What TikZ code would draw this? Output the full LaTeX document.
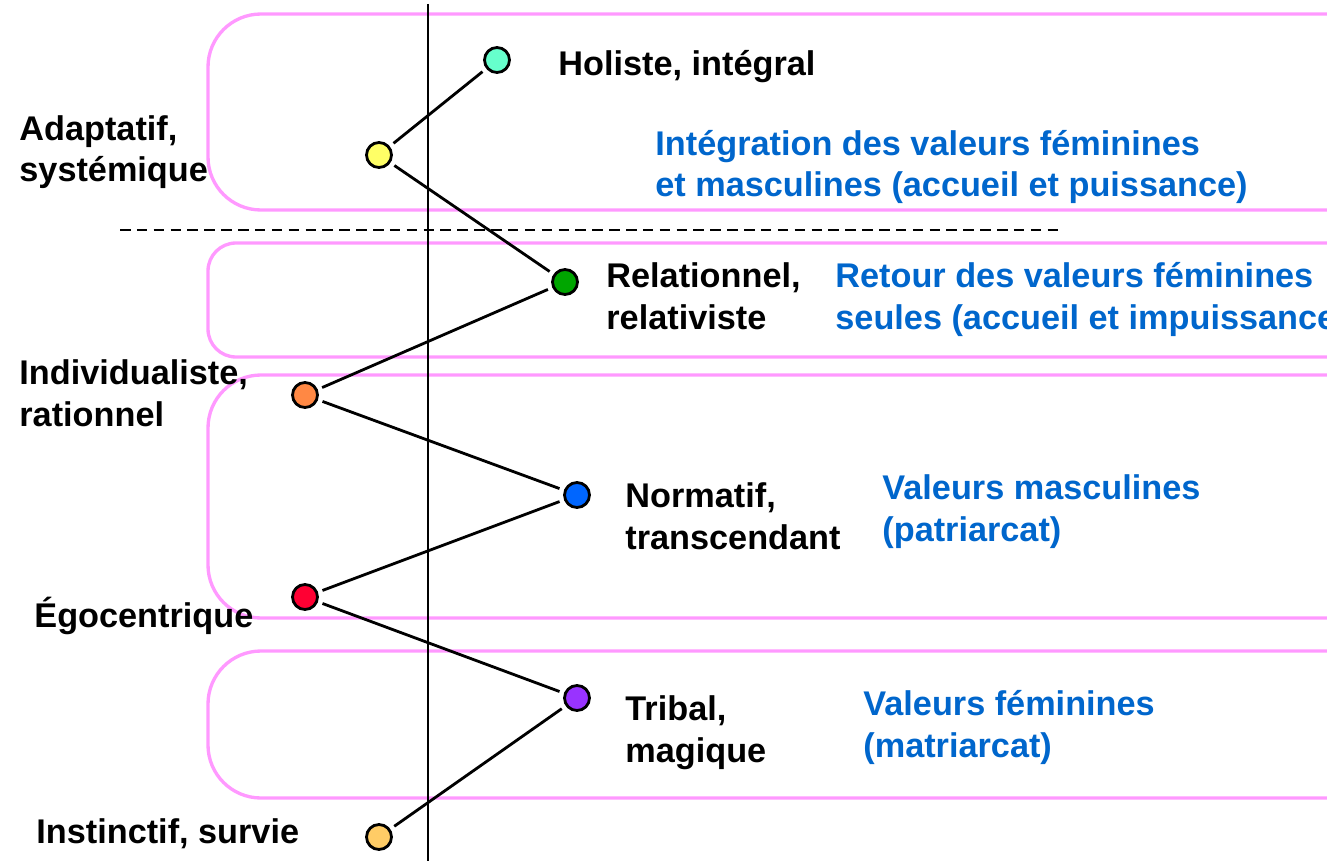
\documentclass[tikz,border=0pt]{standalone}
\usepackage{fontspec}
\setmainfont{Liberation Sans}
\definecolor{bandpink}{RGB}{255,153,255}
\definecolor{valblue}{RGB}{0,102,204}
\definecolor{holistfill}{HTML}{66FFCC}
\definecolor{adaptfill}{HTML}{FFFF66}
\definecolor{relatfill}{HTML}{00A600}
\definecolor{indivfill}{HTML}{FF8844}
\definecolor{normfill}{HTML}{0066FF}
\definecolor{egofill}{HTML}{FF0033}
\definecolor{tribalfill}{HTML}{9933FF}
\definecolor{instinctfill}{HTML}{FFCC66}
\tikzset{
  level/.style={circle,draw,minimum size=0.5cm,inner sep=0pt,outer sep=3.5pt},
  lbl/.style={anchor=base west,align=left,inner sep=0pt,
    font=\fontsize{19.5}{23.5}\selectfont\bfseries},
  val/.style={lbl,text=valblue},
  band/.style={draw=bandpink,line width=1.9pt,rounded corners=1.06cm}
}
\begin{document}
\begin{tikzpicture}[x=0.02cm,y=-0.02cm,line width=1.6pt]
\useasboundingbox (0,0) rectangle (1327,861);
\clip (0,0) rectangle (1327,861);
% the four bands, open to the right
\draw[band] (208,14) rectangle (1420,210);
\draw[band,rounded corners=0.56cm] (208,243) rectangle (1420,357);
\draw[band] (208,375) rectangle (1420,618);
\draw[band] (208,651) rectangle (1420,798);
\draw (428,4) -- (428,861);
\draw[dash pattern=on 6pt off 3.6pt] (120,230) -- (1058,230);
% levels
\foreach \nm/\x/\y in {holist/497/60,adapt/379/155,relat/565/282,indiv/305/395,
    norm/577/495,ego/305/597,tribal/577/698,instinct/379/837}
  \node[level,fill=\nm fill] (\nm) at (\x,\y) {};
\draw (holist) -- (adapt) -- (relat) -- (indiv) -- (norm) -- (ego) -- (tribal) -- (instinct);
% names of the levels (base = last line)
\node[lbl] (holist-t) at (557,76) {Holiste, intégral};
\node[lbl] (adapt-t) at (18,182) {Adaptatif,\\systémique};
\node[lbl] (relat-t) at (605,329) {Relationnel,\\relativiste};
\node[lbl] (indiv-t) at (18,426) {Individualiste,\\rationnel};
\node[lbl] (norm-t) at (624,549) {Normatif,\\transcendant};
\node[lbl] (ego-t) at (33,627) {Égocentrique};
\node[lbl] (tribal-t) at (624,762) {Tribal,\\magique};
\node[lbl] (instinct-t) at (35,843) {Instinctif, survie};
% values
\node[val] (integ) at (654,197) {Intégration des valeurs féminines\\et masculines (accueil et puissance)};
\node[val] (retour) at (834,329) {Retour des valeurs féminines\\seules (accueil et impuissance)};
\node[val] (masc) at (881,541) {Valeurs masculines\\(patriarcat)};
\node[val] (fem) at (862,757) {Valeurs féminines\\(matriarcat)};
\end{tikzpicture}
\end{document}
